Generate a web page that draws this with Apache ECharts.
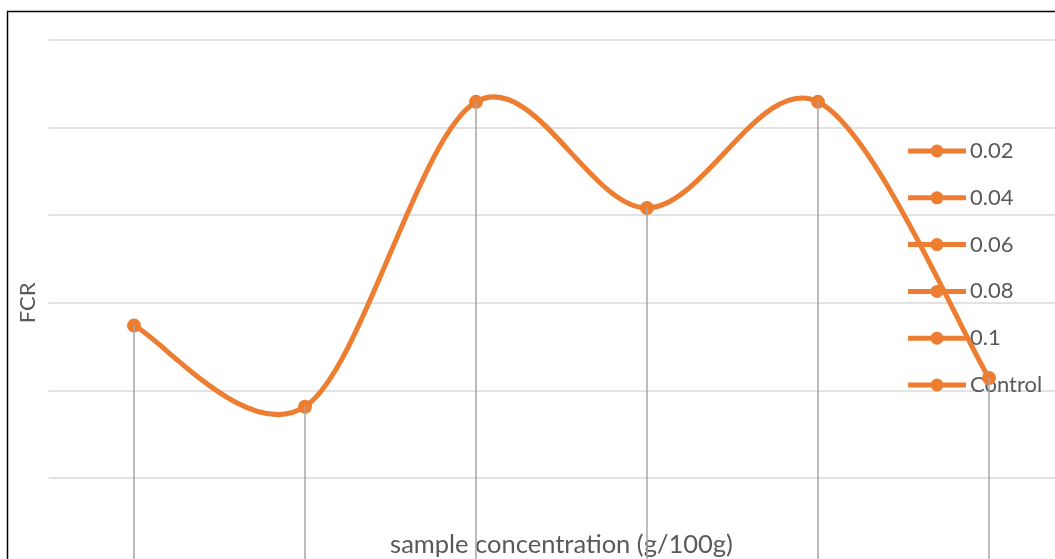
<!DOCTYPE html>
<html>
<head>
<meta charset="utf-8">
<title>FCR by sample concentration</title>
<script src="https://cdn.jsdelivr.net/npm/echarts@6/dist/echarts.min.js"></script>
<style>
  html, body { margin: 0; padding: 0; background: #fff; overflow: hidden; }
  #chart { width: 1100px; height: 600px; }
</style>
</head>
<body>
<div id="chart"></div>
<script>
// Sample concentrations (g/100g) and the feed conversion ratio measured for each
const categories = ['0.02', '0.04', '0.06', '0.08', '0.1', 'Control'];
const fcrValues = [1.37, 0.907, 2.647, 2.041, 2.647, 1.071];

const ORANGE = '#ED7D31';
const TEXT = '#595959';
const FONT = 'Lato';

// Legend swatch: thick line with a dot in the middle
const LEGEND_ICON = 'path://M0,4 L58,4 L58,9 L0,9 Z M22.5,6.5 A6.5,6.5 0 1,1 35.5,6.5 A6.5,6.5 0 1,1 22.5,6.5 Z';

const chart = echarts.init(document.getElementById('chart'));

// Smooth curve through the points: cubic Bezier segments whose control points
// sit one sixth of the neighbour-to-neighbour span away from each point.
function renderCurveSegment(params, api) {
  const i = params.dataIndex;
  const n = fcrValues.length;
  if (i >= n - 1) return null;
  const pt = function (j) {
    const k = Math.max(0, Math.min(n - 1, j));
    return api.coord([k, fcrValues[k]]);
  };
  const p0 = pt(i - 1), p1 = pt(i), p2 = pt(i + 1), p3 = pt(i + 2);
  return {
    type: 'bezierCurve',
    shape: {
      x1: p1[0], y1: p1[1],
      cpx1: p1[0] + (p2[0] - p0[0]) / 6, cpy1: p1[1] + (p2[1] - p0[1]) / 6,
      cpx2: p2[0] - (p3[0] - p1[0]) / 6, cpy2: p2[1] - (p3[1] - p1[1]) / 6,
      x2: p2[0], y2: p2[1]
    },
    style: { stroke: ORANGE, lineWidth: 5, fill: null, lineCap: 'round' }
  };
}

// One empty series per category so the legend lists every concentration
const legendSeries = categories.map(function (name) {
  return {
    name: name,
    type: 'scatter',
    data: [],
    itemStyle: { color: ORANGE, opacity: 1 }
  };
});

chart.setOption({
  animation: false,
  backgroundColor: '#fff',
  textStyle: { fontFamily: FONT },
  graphic: [{
    type: 'rect',
    z: 0,
    shape: { x: 7.5, y: 11.5, width: 1200, height: 700 },
    style: { fill: 'none', stroke: '#000', lineWidth: 1.5 },
    silent: true
  }],
  grid: { left: 48.5, right: 25.5, top: 40, bottom: 34.4, containLabel: false },
  legend: {
    orient: 'vertical',
    left: 908,
    top: 140,
    z: 1,
    padding: 0,
    icon: LEGEND_ICON,
    itemWidth: 58,
    itemHeight: 13,
    itemGap: 24.8,
    data: categories,
    selectedMode: false,
    itemStyle: { color: ORANGE, borderWidth: 0, opacity: 1 },
    textStyle: { color: TEXT, fontSize: 22, fontFamily: FONT, lineHeight: 22, padding: [0, 0, 0, -1] }
  },
  xAxis: {
    type: 'category',
    data: categories,
    boundaryGap: true,
    name: 'sample concentration (g/100g)',
    nameLocation: 'middle',
    nameGap: -34,
    nameTextStyle: { color: TEXT, fontSize: 25.5, fontFamily: FONT },
    axisLine: { show: false },
    axisTick: { show: false },
    axisLabel: { show: false }
  },
  yAxis: {
    type: 'value',
    min: 0,
    max: 3,
    interval: 0.5,
    name: 'FCR',
    nameLocation: 'middle',
    nameRotate: 90,
    nameGap: 10,
    nameTextStyle: { color: TEXT, fontSize: 22, fontFamily: FONT },
    axisLine: { show: false },
    axisTick: { show: false },
    axisLabel: { show: false },
    splitLine: { lineStyle: { color: '#D9D9D9', width: 1.5 } }
  },
  series: [
    {
      name: 'FCR curve',
      type: 'custom',
      data: fcrValues.map(function (v, i) { return [i, v]; }),
      encode: { x: 0, y: 1 },
      renderItem: renderCurveSegment,
      z: 2,
      silent: true
    },
    {
      name: 'FCR',
      type: 'scatter',
      data: fcrValues,
      symbol: 'circle',
      symbolSize: 14,
      z: 3,
      itemStyle: { color: ORANGE, opacity: 1 }
    },
    {
      // drop lines from each point down to the category axis
      name: 'drop',
      type: 'bar',
      data: fcrValues,
      barWidth: 1.5,
      z: 4,
      itemStyle: { color: '#A5A5A5' }
    }
  ].concat(legendSeries)
});
</script>
</body>
</html>
